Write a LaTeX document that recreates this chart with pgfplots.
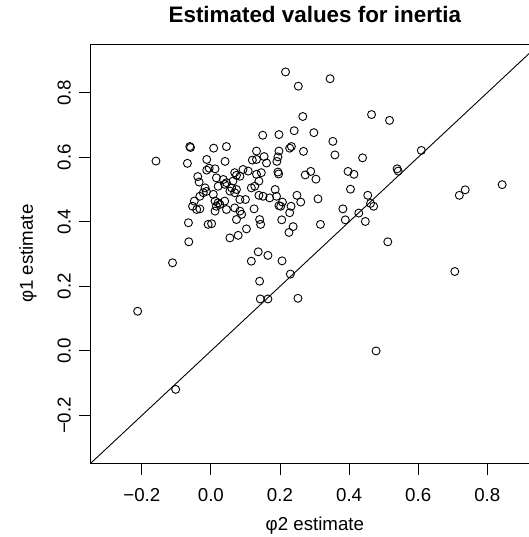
\documentclass[border=0pt]{standalone}
\usepackage{fontspec}
\setmainfont{Liberation Sans}
\usepackage{pgfplots}
\pgfplotsset{compat=1.18}

\begin{document}
\begin{tikzpicture}
\begin{axis}[
    name=ax,
    scale only axis,
    width=447.8pt, height=418.5pt,
    xmin=-0.347, xmax=0.949,
    ymin=-0.347, ymax=0.949,
    enlargelimits=false,
    axis line style={black, line width=1pt},
    tick align=outside,
    xtick pos=left, ytick pos=left,
    major tick length=11.5pt,
    tick style={black, line width=0.9pt},
    xtick={-0.2,0,0.2,0.4,0.6,0.8},
    xticklabels={−0.2,0.0,0.2,0.4,0.6,0.8},
    ytick={-0.2,0,0.2,0.4,0.6,0.8},
    yticklabels={−0.2,0.0,0.2,0.4,0.6,0.8},
    ticklabel style={font=\fontsize{18.7}{22}\selectfont, inner sep=0pt},
    xticklabel style={anchor=base},
    xticklabel shift=27.2pt,
    yticklabel style={rotate=90, anchor=base},
    yticklabel shift=8.8pt,
    title={\bfseries Estimated values for inertia},
    title style={font=\fontsize{22.4}{26}\selectfont, inner sep=0pt,
        at={(axis description cs:0.5,1)}, anchor=base, yshift=16.2pt},
    xlabel={φ2 estimate},
    xlabel style={font=\fontsize{18.7}{22}\selectfont, inner sep=0pt,
        at={(axis description cs:0.5,0)}, anchor=base, yshift=-67pt},
    ylabel={φ1 estimate},
    ylabel style={font=\fontsize{18.7}{22}\selectfont, inner sep=0pt,
        at={([xshift=-58pt]axis description cs:0,0.5)}, anchor=base},
]
% phi1 = phi2 reference line
\addplot[black, line width=0.9pt] coordinates {(-0.347,-0.347) (0.949,0.949)};

\addplot[only marks, mark=o, mark size=4pt, black, mark options={line width=0.9pt}]
table[row sep=\\] {
x y \\
0.216 0.864 \\ 0.253 0.820 \\ 0.345 0.843 \\ 0.266 0.726 \\ 0.465 0.732 \\
0.517 0.714 \\ 0.197 0.670 \\ 0.241 0.682 \\ 0.298 0.676 \\ 0.353 0.649 \\
0.359 0.607 \\ 0.439 0.598 \\ 0.609 0.621 \\ 0.268 0.618 \\ 0.228 0.628 \\
0.233 0.633 \\ 0.197 0.619 \\ 0.194 0.601 \\ 0.191 0.587 \\ 0.539 0.564 \\
0.542 0.557 \\ 0.194 0.554 \\ 0.196 0.548 \\ 0.273 0.545 \\ 0.289 0.556 \\
0.304 0.532 \\ 0.397 0.556 \\ 0.414 0.547 \\ 0.404 0.501 \\ 0.186 0.500 \\
0.170 0.474 \\ 0.190 0.479 \\ 0.207 0.461 \\ 0.197 0.450 \\ 0.202 0.448 \\
0.232 0.448 \\ 0.228 0.428 \\ 0.249 0.482 \\ 0.260 0.461 \\ 0.310 0.471 \\
0.454 0.482 \\ 0.462 0.457 \\ 0.471 0.448 \\ 0.382 0.440 \\ 0.428 0.427 \\
0.389 0.406 \\ 0.447 0.401 \\ 0.317 0.392 \\ 0.205 0.406 \\ 0.238 0.385 \\
0.226 0.367 \\ 0.719 0.482 \\ 0.736 0.499 \\ 0.843 0.515 \\
-0.159 0.588 \\ -0.068 0.581 \\ -0.061 0.633 \\ -0.059 0.630 \\ 0.008 0.628 \\
0.045 0.633 \\ 0.150 0.668 \\ -0.012 0.593 \\ 0.041 0.587 \\ 0.132 0.619 \\
0.154 0.602 \\ 0.161 0.582 \\ 0.120 0.591 \\ 0.132 0.593 \\ -0.012 0.560 \\
-0.005 0.566 \\ 0.012 0.564 \\ -0.038 0.540 \\ -0.034 0.523 \\ 0.016 0.536 \\
0.036 0.531 \\ 0.045 0.521 \\ 0.064 0.526 \\ 0.074 0.544 \\ 0.084 0.541 \\
0.093 0.562 \\ 0.108 0.557 \\ 0.069 0.552 \\ 0.132 0.547 \\ 0.146 0.552 \\
0.139 0.526 \\ 0.127 0.510 \\ 0.117 0.505 \\ 0.021 0.510 \\ 0.040 0.516 \\
0.060 0.505 \\ 0.055 0.495 \\ 0.069 0.490 \\ 0.074 0.500 \\ -0.017 0.505 \\
-0.022 0.490 \\ -0.032 0.479 \\ -0.048 0.464 \\ -0.053 0.448 \\ -0.041 0.438 \\
-0.032 0.440 \\ 0.007 0.485 \\ 0.012 0.464 \\ 0.021 0.459 \\ 0.016 0.448 \\
0.026 0.454 \\ 0.012 0.433 \\ 0.040 0.464 \\ 0.045 0.438 \\ 0.069 0.443 \\
0.084 0.433 \\ 0.089 0.423 \\ 0.084 0.469 \\ 0.100 0.469 \\ 0.125 0.440 \\
0.139 0.482 \\ 0.151 0.479 \\ 0.141 0.407 \\ 0.144 0.392 \\ 0.074 0.407 \\
0.103 0.378 \\ -0.065 0.397 \\ -0.008 0.392 \\ 0.002 0.394 \\ 0.055 0.350 \\
0.079 0.358 \\ -0.013 0.494 \\
-0.064 0.338 \\ -0.111 0.273 \\ -0.212 0.123 \\ -0.102 -0.119 \\
0.137 0.307 \\ 0.117 0.278 \\ 0.165 0.296 \\ 0.141 0.216 \\ 0.143 0.161 \\
0.165 0.161 \\
0.512 0.338 \\ 0.206 0.279 \\ 0.230 0.238 \\ 0.252 0.163 \\ 0.706 0.246 \\
0.478 0.000 \\
};
\end{axis}
% the reference is cut off just before the right edge of the box
\pgfresetboundingbox
\path[use as bounding box] ([xshift=-91pt,yshift=-74pt]ax.south west)
    rectangle ([xshift=438pt,yshift=44.5pt]ax.north west);
\end{tikzpicture}
\end{document}
